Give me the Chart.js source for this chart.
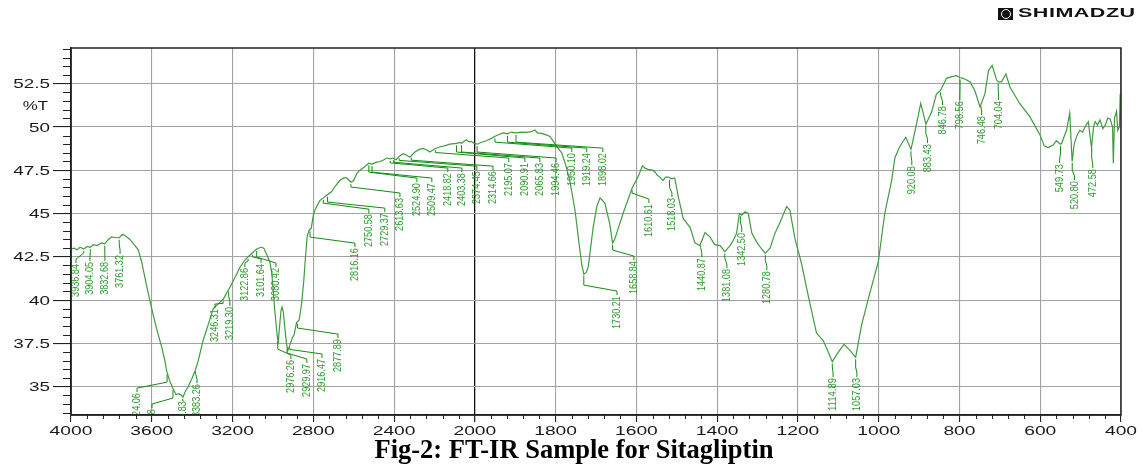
<!DOCTYPE html>
<html>
<head>
<meta charset="utf-8">
<script src="https://cdn.jsdelivr.net/npm/chart.js@4.4.1/dist/chart.umd.min.js"></script>
<style>
  html, body { margin: 0; padding: 0; background: #fff; }
  #wrap { position: relative; width: 1142px; height: 469px; overflow: hidden; }
  #title {
    position: absolute; left: 0; width: 1148px; top: 434px; text-align: center;
    font: bold 26.5px 'Liberation Serif', 'Times New Roman', serif; color: #000;
  }
  #logo { position: absolute; left: 998px; top: 7px; height: 14px; }
  #logo .box {
    position: absolute; left: 0; top: 1px; width: 15px; height: 12px; background: #111;
  }
  #logo .box span {
    position: absolute; left: 3px; top: 1px; width: 8px; height: 8px; border: 1px solid #fff; border-radius: 50%;
  }
  #logo .txt {
    position: absolute; left: 20px; top: -1px; white-space: nowrap;
    font: bold 12.5px 'Liberation Sans', Arial, sans-serif; color: #111;
    transform: scaleX(1.72); transform-origin: left center; letter-spacing: 0.3px;
  }
</style>
</head>
<body>
<div id="wrap">
  <canvas id="ftir" width="1142" height="469"></canvas>
  <div id="logo"><div class="box"><span></span></div><div class="txt">SHIMADZU</div></div>
  <div id="title">Fig-2: FT-IR Sample for Sitagliptin</div>
</div>
<script>
// spectrum (cm-1 and %T)
const wavenumbers = [
  4000, 3985, 3970, 3955, 3937, 3920, 3904, 3890, 3870, 3850, 3833, 3815, 3799, 3780, 3761, 3745, 3730, 3708, 3690, 3667,
  3650, 3625, 3600, 3575, 3551, 3535, 3526, 3510, 3495, 3480, 3465, 3452, 3446, 3435, 3420, 3400, 3383, 3370, 3345, 3320,
  3296, 3270, 3246, 3230, 3210, 3188, 3163, 3140, 3122, 3100, 3080, 3060, 3045, 3030, 3015, 3005, 2998, 2990, 2981, 2974,
  2967, 2960, 2955, 2948, 2941, 2933, 2926, 2916, 2905, 2895, 2883, 2870, 2858, 2848, 2838, 2830, 2820, 2810, 2800, 2790,
  2767, 2750, 2734, 2710, 2690, 2669, 2650, 2635, 2613, 2600, 2585, 2569, 2545, 2525, 2509, 2490, 2470, 2450, 2437, 2419,
  2405, 2390, 2374, 2355, 2335, 2322, 2297, 2275, 2256, 2235, 2223, 2195, 2173, 2150, 2124, 2091, 2074, 2066, 2050, 2041,
  2030, 2016, 2005, 1994, 1985, 1971, 1958, 1946, 1930, 1919, 1910, 1898, 1885, 1872, 1860, 1851, 1845, 1835, 1825, 1814,
  1802, 1795, 1785, 1775, 1765, 1752, 1740, 1735, 1730, 1724, 1719, 1707, 1698, 1690, 1678, 1666, 1659, 1654, 1649, 1633,
  1616, 1610, 1596, 1585, 1578, 1571, 1560, 1554, 1548, 1542, 1534, 1528, 1521, 1513, 1505, 1496, 1484, 1467, 1455, 1443,
  1430, 1418, 1406, 1393, 1381, 1368, 1360, 1352, 1345, 1339, 1331, 1323, 1314, 1302, 1290, 1281, 1269, 1257, 1245, 1235,
  1228, 1220, 1207, 1191, 1174, 1154, 1137, 1125, 1115, 1100, 1086, 1071, 1057, 1042, 1022, 1001, 985, 968, 960, 948,
  933, 920, 906, 896, 883, 869, 857, 847, 832, 819, 807, 799, 791, 774, 762, 749, 737, 728, 719, 708,
  704, 696, 685, 675, 651, 626, 601, 590, 580, 568, 560, 550, 547, 535, 527, 521, 516, 510, 502, 495,
  489, 481, 473, 468, 464, 458, 452, 445, 439, 433, 427, 421, 419, 416, 411, 408, 404, 402, 400
];
const transmittance = [
  42.95, 43.0, 42.9, 43.05, 42.95, 43.1, 43.05, 43.2, 43.15, 43.3, 43.25, 43.5, 43.65, 43.6, 43.6, 43.8, 43.7, 43.5, 43.25, 42.9,
  42.2, 40.8, 39.5, 38.3, 37.3, 36.5, 35.9, 35.3, 34.9, 34.55, 34.6, 34.5, 34.4, 34.7, 35.0, 35.5, 36.0, 36.5, 37.7, 38.6,
  39.5, 39.8, 40.05, 40.4, 40.8, 41.3, 41.9, 42.3, 42.5, 42.75, 42.95, 43.05, 43.0, 42.6, 42.2, 41.5, 40.5, 39.3, 38.2, 37.5,
  38.5, 39.4, 39.6, 39.3, 38.4, 37.5, 37.1, 37.4, 37.8, 38.0, 38.7, 38.85, 39.8, 41.0, 42.6, 43.7, 44.05, 44.15, 44.9, 45.25,
  45.75, 45.9, 46.05, 46.25, 46.6, 46.9, 47.05, 47.05, 46.8, 46.9, 47.3, 47.5, 47.7, 47.9, 47.85, 47.95, 48.0, 48.1, 48.2, 48.15,
  48.2, 48.1, 48.3, 48.45, 48.35, 48.25, 48.55, 48.7, 48.75, 48.65, 48.55, 48.75, 48.85, 48.9, 49.0, 49.05, 49.1, 49.05, 49.2, 49.25,
  49.15, 49.15, 49.05, 49.0, 49.1, 49.2, 49.35, 49.5, 49.65, 49.6, 49.7, 49.65, 49.7, 49.68, 49.72, 49.82, 49.65, 49.62, 49.55, 49.45,
  49.05, 48.8, 48.5, 47.8, 46.9, 45.2, 42.9, 42.0, 41.5, 41.6, 41.95, 44.2, 45.4, 45.9, 45.6, 44.4, 43.3, 43.5, 43.85, 45.0,
  46.1, 46.5, 47.1, 47.75, 47.6, 47.55, 47.5, 47.4, 47.2, 47.1, 46.9, 47.1, 47.1, 47.0, 47.05, 45.95, 44.7, 44.2, 43.3, 43.15,
  43.9, 43.65, 43.2, 43.15, 42.8, 43.15, 43.45, 43.85, 45.0, 44.9, 45.1, 45.0, 43.85, 43.35, 42.95, 42.7, 43.0, 43.85, 44.45, 45.0,
  45.4, 45.2, 43.5, 42.1, 40.2, 38.1, 37.65, 37.0, 36.45, 37.0, 37.45, 37.1, 36.7, 38.6, 40.4, 42.2, 45.0, 46.9, 48.2, 48.85,
  49.4, 48.7, 50.2, 51.35, 50.15, 50.85, 51.9, 52.1, 52.8, 52.9, 52.95, 52.85, 52.8, 52.6, 52.1, 51.15, 51.9, 53.25, 53.55, 52.7,
  52.6, 52.6, 53.05, 52.3, 51.35, 50.6, 49.55, 48.9, 48.8, 48.95, 49.2, 49.0, 49.05, 49.8, 50.8, 48.0, 49.0, 49.45, 49.8, 49.7,
  50.0, 50.3, 48.8, 50.0, 50.3, 50.1, 50.4, 49.9, 50.1, 50.5, 50.45, 50.0, 47.9, 50.5, 50.9, 49.8, 50.0, 51.9, 50.4
];

// axis ticks
const xTickLabels = [4000, 3600, 3200, 2800, 2400, 2000, 1800, 1600, 1400, 1200, 1000, 800, 600, 400];
const yTickLabels = [35, 37.5, 40, 42.5, 45, 47.5, 50, 52.5];

// peak table: label text, where the label text sits (cm-1, %T of its top end)
const peakLabels = ['3936.84','3904.05','3832.68','3761.32','3524.06','3495.28','3446.83','3383.26','3246.31','3219.30',
  '3122.86','3101.64','3080.42','2976.26','2929.97','2916.47','2877.89','2816.16','2750.58','2729.37','2613.63','2524.90',
  '2509.47','2418.82','2403.38','2374.45','2314.66','2195.07','2090.91','2065.83','1994.46','1950.10','1919.24','1898.02',
  '1730.21','1658.84','1610.61','1518.03','1440.87','1381.08','1342.50','1280.78','1114.89','1057.03','920.08','883.43',
  '846.78','798.56','746.48','704.04','549.73','520.80','472.58'];
const labelWn = [3975,3906,3832,3757,3673,3599,3446,3376,3287,3213,3139,3059,2985,2911,2832,2757,2678,2594,2525,2446,
  2371,2287,2213,2134,2064,1995,1955,1916,1876,1839,1799,1760,1723,1683,1648,1606,1569,1512,1438,1376,1339,1277,1113,1054,
  918,879,842,799,745,703,552,515,470];
const labelTop = [42.14,42.26,42.26,42.66,34.69,33.77,34.23,35.21,39.54,39.66,41.91,42.14,41.91,36.6,36.37,36.66,37.81,
  43.06,45.02,45.08,45.95,46.81,46.81,47.39,47.39,47.5,47.5,47.97,47.97,47.97,47.97,48.54,48.54,48.54,40.29,42.31,45.6,
  45.95,42.48,41.85,43.93,41.73,35.56,35.56,47.79,49.06,51.25,51.54,50.68,51.54,47.91,46.93,47.62];

// the instrument halves the scale above 2000 cm-1
const toAxis = wn => wn >= 2000 ? (4000 - wn) / 2 : 1000 + (2000 - wn);

function interpT(wn) {
  for (let i = 0; i < wavenumbers.length - 1; i++) {
    const a = wavenumbers[i], b = wavenumbers[i + 1];
    if (wn <= a && wn >= b) {
      const t = (a - wn) / (a - b);
      return transmittance[i] + t * (transmittance[i + 1] - transmittance[i]);
    }
  }
  return transmittance[transmittance.length - 1];
}

function stretchedText(ctx, text, x, y, align, sx) {
  ctx.save();
  ctx.translate(x, y);
  ctx.scale(sx, 1);
  ctx.textAlign = align;
  ctx.fillText(text, 0, 0);
  ctx.restore();
}

const decor = {
  id: 'decor',
  beforeDraw(chart) {
    const ctx = chart.ctx;
    ctx.save();
    ctx.fillStyle = '#fff';
    ctx.fillRect(0, 0, chart.width, chart.height);
    ctx.restore();
  },
  afterDatasetsDraw(chart) {
    const { ctx, chartArea: ca, scales: { x, y } } = chart;
    ctx.save();
    ctx.beginPath();
    ctx.rect(ca.left, ca.top, ca.right - ca.left, ca.bottom - ca.top);
    ctx.clip();
    ctx.font = "11px 'Liberation Sans', Arial, sans-serif";
    peakLabels.forEach((txt, i) => {
      const wn = parseFloat(txt);
      const px = x.getPixelForValue(toAxis(wn));
      const py = y.getPixelForValue(interpT(wn));
      const lx = x.getPixelForValue(toAxis(labelWn[i]));
      const ly = y.getPixelForValue(labelTop[i]);
      const e1 = Math.max(py + 4, ly - 10);
      ctx.strokeStyle = '#118c11';
      ctx.lineWidth = 1;
      ctx.beginPath();
      ctx.moveTo(px, py + 2);
      ctx.lineTo(px, e1);
      ctx.lineTo(lx, Math.max(e1, ly - 4));
      ctx.lineTo(lx, ly);
      ctx.stroke();
      ctx.save();
      ctx.translate(lx, ly + 1);
      ctx.rotate(-Math.PI / 2);
      const w = ctx.measureText(txt).width;
      ctx.scale((txt.length * 4.7) / w, 1);
      ctx.fillStyle = '#2b9c2b';
      ctx.textAlign = 'right';
      ctx.textBaseline = 'middle';
      ctx.fillText(txt, 0, 0);
      ctx.restore();
    });
    ctx.restore();
  },
  afterDraw(chart) {
    const { ctx, chartArea: ca, scales: { x, y } } = chart;
    ctx.save();
    ctx.strokeStyle = '#222';
    ctx.lineWidth = 1.5;
    ctx.strokeRect(ca.left, ca.top, ca.right - ca.left, ca.bottom - ca.top);

    // minor ticks
    ctx.lineWidth = 1;
    ctx.beginPath();
    for (let u = 0; u <= 2600; u += 40) {
      if (u % 200 === 0) continue;
      const px = Math.round(x.getPixelForValue(u)) + 0.5;
      ctx.moveTo(px, ca.bottom);
      ctx.lineTo(px, ca.bottom + 4);
    }
    for (let v = 33.5; v <= 54.5; v += 0.5) {
      if (Math.abs(v / 2.5 - Math.round(v / 2.5)) < 1e-6) continue;
      const py = Math.round(y.getPixelForValue(v)) + 0.5;
      ctx.moveTo(ca.left - 8, py);
      ctx.lineTo(ca.left, py);
    }
    ctx.stroke();

    // tick labels
    ctx.fillStyle = '#1a1a1a';
    ctx.font = "13px 'Liberation Sans', Arial, sans-serif";
    ctx.textBaseline = 'alphabetic';
    xTickLabels.forEach(wn => {
      stretchedText(ctx, String(wn), x.getPixelForValue(toAxis(wn)), 435, 'center', 1.48);
    });
    yTickLabels.forEach(v => {
      stretchedText(ctx, String(v), 50, y.getPixelForValue(v) + 4.7, 'right', 1.45);
    });
    stretchedText(ctx, '%T', 48, 109.5, 'right', 1.3);
    ctx.restore();
  }
};

new Chart(document.getElementById('ftir'), {
  type: 'line',
  data: {
    datasets: [{
      data: wavenumbers.map((wn, i) => ({ x: toAxis(wn), y: transmittance[i] })),
      borderColor: '#3f9b3f',
      borderWidth: 1.2,
      pointRadius: 0,
      tension: 0,
      fill: false
    }]
  },
  options: {
    responsive: false,
    devicePixelRatio: 1,
    animation: false,
    layout: { padding: { top: 48, right: 21, left: 0, bottom: 0 } },
    plugins: { legend: { display: false }, tooltip: { enabled: false } },
    scales: {
      x: {
        type: 'linear',
        min: 0,
        max: 2600,
        afterBuildTicks: s => { s.ticks = xTickLabels.map(wn => ({ value: toAxis(wn) })); },
        afterFit: s => { s.height = 54; },
        ticks: { display: false },
        grid: {
          color: c => (c.tick && c.tick.value === 1000 ? '#111' : '#a2a2a2'),
          lineWidth: c => (c.tick && c.tick.value === 1000 ? 1.3 : 1.1),
          drawTicks: true,
          tickLength: 7,
          tickColor: '#222'
        },
        border: { color: '#111', width: 1.5 }
      },
      y: {
        min: 33.37,
        max: 54.55,
        afterBuildTicks: s => { s.ticks = yTickLabels.map(v => ({ value: v })); },
        afterFit: s => { s.width = 71; },
        ticks: { display: false },
        grid: { color: '#a2a2a2', lineWidth: 1.1, drawTicks: true, tickLength: 18, tickColor: '#222' },
        border: { color: '#111', width: 1.5 }
      }
    }
  },
  plugins: [decor]
});
</script>
</body>
</html>
